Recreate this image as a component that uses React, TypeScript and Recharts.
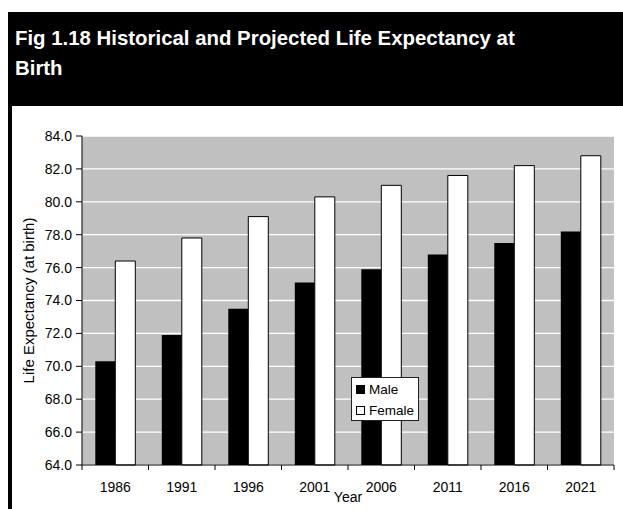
import { BarChart, Bar, XAxis, YAxis, CartesianGrid, Legend } from "recharts";

const years = ["1986", "1991", "1996", "2001", "2006", "2011", "2016", "2021"];
const maleLife = [70.3, 71.9, 73.5, 75.1, 75.9, 76.8, 77.5, 78.2];
const femaleLife = [76.4, 77.8, 79.1, 80.3, 81.0, 81.6, 82.2, 82.8];
const yTicks = [64, 66, 68, 70, 72, 74, 76, 78, 80, 82, 84];

const W = 623;
const H = 509;
const PLOT_LEFT = 82;
const PLOT_RIGHT = 614;
const PLOT_TOP = 136;
const PLOT_BOTTOM = 465;
const X_AXIS_H = 30;
const FONT = '"Liberation Sans", Arial, sans-serif';
const TICK_FS = 14;

const data = years.map((year, i) => ({ year, Male: maleLife[i], Female: femaleLife[i] }));
const band = (PLOT_RIGHT - PLOT_LEFT) / years.length;

// year labels sit under each group; tick marks go on the group boundaries
function YearTick(props: any) {
  const { x, y, payload, index } = props;
  const last = index === years.length - 1;
  return (
    <g>
      <line x1={x - band / 2} x2={x - band / 2} y1={y} y2={y + 5} stroke="#000" />
      {last && <line x1={x + band / 2} x2={x + band / 2} y1={y} y2={y + 5} stroke="#000" />}
      <text x={x} y={y + 26.5} textAnchor="middle" fontSize={TICK_FS} fontFamily={FONT} fill="#000">
        {payload.value}
      </text>
    </g>
  );
}

function LegendBox() {
  const rows = [
    { name: "Male", fill: "#000" },
    { name: "Female", fill: "#fff" },
  ];
  return (
    <div
      style={{
        width: 68,
        height: 44,
        boxSizing: "border-box",
        border: "1px solid #222",
        background: "#fff",
        paddingTop: 1,
        fontFamily: FONT,
        fontSize: 13.5,
        color: "#000",
      }}
    >
      {rows.map((r) => (
        <div key={r.name} style={{ height: 21, display: "flex", alignItems: "center", paddingLeft: 4 }}>
          <span
            style={{
              width: 9,
              height: 9,
              boxSizing: "border-box",
              border: "1px solid #000",
              background: r.fill,
              marginRight: 4,
            }}
          />
          {r.name}
        </div>
      ))}
    </div>
  );
}

export default function App() {
  return (
    <div style={{ position: "absolute", left: 0, top: 0, width: W, height: H, background: "#fff" }}>
      <div
        style={{
          position: "absolute",
          left: 8,
          top: 12,
          width: W - 8,
          height: 94,
          background: "#000",
          color: "#fff",
          fontFamily: FONT,
          fontWeight: "bold",
          fontSize: 20.4,
          lineHeight: "30px",
          boxSizing: "border-box",
          padding: "11px 0 0 7px",
        }}
      >
        <div style={{ width: 540 }}>Fig 1.18 Historical and Projected Life Expectancy at Birth</div>
      </div>
      <div style={{ position: "absolute", left: 8, top: 106, width: 4, height: H - 106, background: "#000" }} />

      <div style={{ position: "absolute", left: 0, top: 0 }}>
        <BarChart
          width={W}
          height={H}
          data={data}
          margin={{ top: PLOT_TOP, right: W - PLOT_RIGHT, bottom: H - PLOT_BOTTOM - X_AXIS_H, left: 0 }}
          barCategoryGap="20%"
          barGap={0}
        >
          <CartesianGrid vertical={false} fill="#c0c0c0" stroke="#ffffff" strokeWidth={1.3} />
          <XAxis
            dataKey="year"
            height={X_AXIS_H}
            tickSize={0}
            tickMargin={0}
            tickLine={false}
            axisLine={{ stroke: "#000" }}
            tick={<YearTick />}
            interval={0}
          />
          <XAxis
            xAxisId="top"
            dataKey="year"
            orientation="top"
            height={0}
            tick={false}
            tickLine={false}
            axisLine={{ stroke: "#808080" }}
          />
          <YAxis
            width={PLOT_LEFT}
            domain={[64, 84]}
            ticks={yTicks}
            tickFormatter={(v: number) => v.toFixed(1)}
            tickSize={6}
            tickMargin={4}
            axisLine={{ stroke: "#000" }}
            tickLine={{ stroke: "#000" }}
            tick={{ fill: "#000", fontSize: TICK_FS, fontFamily: FONT }}
            interval={0}
          />
          <YAxis
            yAxisId="right"
            orientation="right"
            width={0}
            domain={[64, 84]}
            tick={false}
            tickLine={false}
            axisLine={{ stroke: "#808080" }}
          />
          <Bar dataKey="Male" fill="#000" isAnimationActive={false} />
          <Bar dataKey="Female" fill="#fff" stroke="#000" strokeWidth={1} isAnimationActive={false} />
          <Legend
            layout="vertical"
            align="center"
            verticalAlign="middle"
            content={<LegendBox />}
            wrapperStyle={{ left: 351, top: 377, width: 68 }}
          />
        </BarChart>
      </div>

      <svg
        width={W}
        height={H}
        style={{ position: "absolute", left: 0, top: 0, pointerEvents: "none" }}
      >
        <text
          x={0}
          y={0}
          transform={`translate(28,${(PLOT_TOP + PLOT_BOTTOM) / 2}) rotate(-90)`}
          textAnchor="middle"
          dominantBaseline="central"
          fontSize={15}
          fontFamily={FONT}
          fill="#000"
        >
          Life Expectancy (at birth)
        </text>
        <text x={(PLOT_LEFT + PLOT_RIGHT) / 2} y={501.5} textAnchor="middle" fontSize={TICK_FS} fontFamily={FONT} fill="#000">
          Year
        </text>
      </svg>
    </div>
  );
}
